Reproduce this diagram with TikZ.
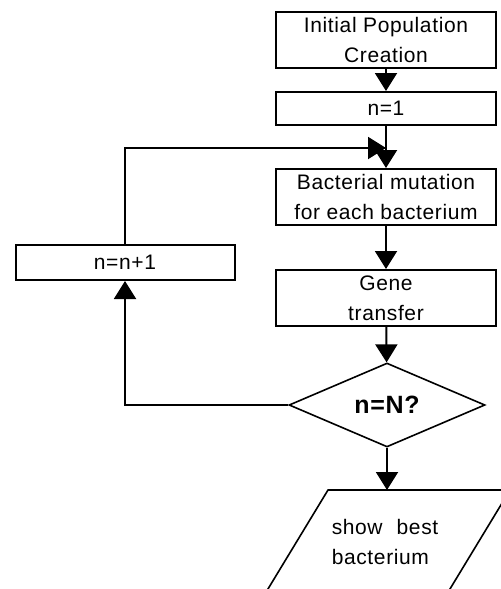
\documentclass[tikz,border=0pt]{standalone}
\usepackage{fontspec}
\setmainfont{Liberation Sans}[LetterSpace=3]
\usetikzlibrary{shapes,arrows.meta,calc}
\tikzset{
    block/.style = {draw, rectangle, line width=1pt,
        minimum height=28pt,
        minimum width=110pt, align=center, inner sep=0pt},
    thin block/.style = {block, minimum height=16.5pt},
    decision/.style = {draw, diamond, line width=0.8pt,
        minimum width=98pt, minimum height=42pt, inner sep=0pt,
        font=\fontsize{12.5}{14}\selectfont\bfseries},
    io/.style = {draw, line width=0.8pt, line join=round},
    arrow/.style={draw, line width=1pt, -{Triangle[width=11pt,length=9pt]}}
}
\begin{document}
\begin{tikzpicture}[x=0.5pt,y=-0.5pt,font=\fontsize{10.5}{15}\selectfont]
    \useasboundingbox (0,0) rectangle (501,589);
    \clip (0,0) rectangle (501,589);
    \node[block] (init) at (386,40) {Initial Population\\Creation};
    \node[thin block] (n1) at (386,108.5) {n=1};
    \node[block] (mut) at (386,197) {Bacterial mutation\\for each bacterium};
    \node[block] (gene) at (386,298) {Gene\\transfer};
    \node[decision] (test) at (387,405) {n=N?};
    \node[block,minimum width=109.5pt,minimum height=17.5pt] (inc) at (125,262.5) {n=n+1};
    \draw[io] (328,490) coordinate (tl) -- (510,490) -- (444.5,598) -- (262.5,598) -- cycle;
    \node[align=left,inner sep=0pt] (show) at (385,542) {show\hspace{7pt}best\\bacterium};
    \coordinate (showtop) at (test.south |- tl);
    \coordinate (join) at (386,148);
    \draw[arrow] (init) -- (n1);
    \draw[arrow] (n1) -- (mut);
    \draw[arrow] (mut) -- (gene);
    \draw[arrow] (gene) -- (test);
    \draw[arrow] (test) -- (showtop);
    \draw[arrow] (test.west) -| (inc.south);
    \draw[arrow] (inc.north) |- (join);
\end{tikzpicture}
\end{document}
